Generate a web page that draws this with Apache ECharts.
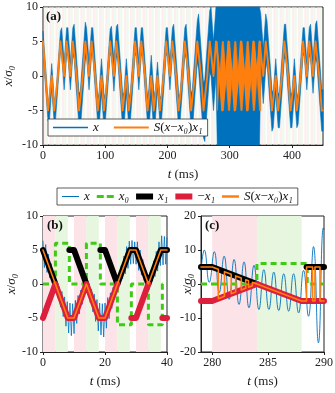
<!doctype html>
<html lang="en">
<head>
<meta charset="UTF-8">
<script src="https://cdn.jsdelivr.net/npm/echarts@6/dist/echarts.min.js"></script>
<style>html,body{margin:0;padding:0;background:#fff}#main{width:335px;height:393px}</style>
</head>
<body>
<div id="main"></div>
<script>
var colBlue = '#0072BD', colOrange = '#FF7F0E', colGreen = '#3FCB14', colRed = '#DC1F3C';
var colPink = '#FBE3E7', colMint = '#E6F6DF', ink = '#222';
var serif = "'Liberation Serif', 'DejaVu Serif', serif";

// one 10 ms cycle of |x1|: start, minimum, plateau (plateau lasts to the end of the cycle)
var cycleT = [0, 4, 8];
var x1Cycle = [5, 0, 5];

// panel (a): branch taken before cycle 0, then the branch of each cycle's plateau
var signA = [1, -1, -1, 1, 1, 1, -1, 1, 1, -1, -1, 1, 1, -1, -1, 1, 1, -1, -1, -1, 1,
             1, -1, 1, -1, 1, -1, 1, 1, -1, 1, -1, 1, -1, 1, 1, 1, -1, -1, 1, -1,
             -1, 1, 1, 1, -1];
// panel (a): half width of the fast x oscillation around S(x-x0)x1, per cycle
var spreadA = [1.5, 1.8, 1.5, 2, 2, 2.5, 2.8, 2, 2, 2.5, 1.8, 2.2, 2.5, 2.5, 2, 2, 2, 3, 2, 2,
               2, 2.5, 2, 2.5, 3, 4, 4.5, 5, 15, 15, 15, 15, 15, 15, 15, 4, 3, 2.5, 2.5, 2.5,
               2.5, 2, 2, 2.5, 3];
var switchA = [28, 35];   // cycles where S(x-x0) flips fast

// panel (b)
var blueB = [[0,6.3],[0.44,2.4],[0.87,5.8],[1.31,1.7],[1.74,4.4],[2.18,0.9],[2.61,3.0],[3.05,0.1],[3.48,1.6],[3.92,-0.6],
  [4.35,0.4],[4.79,-2.0],[5.22,-0.4],[5.66,-3.4],[6.09,-1.1],[6.53,-4.8],[6.96,-1.9],[7.40,-6.2],[7.83,-2.6],[8.27,-7.2],
  [8.70,-2.8],[9.14,-7.6],[9.57,-2.9],[10.01,-7.3],[10.44,-2.4],[10.88,-5.8],[11.31,-1.7],[11.75,-4.4],[12.18,-0.9],[12.62,-3.0],
  [13.05,-0.1],[13.49,-1.5],[13.92,0.6],[14.36,-1.3],[14.79,0.0],[15.23,-2.7],[15.66,-0.8],[16.10,-4.1],[16.53,-1.5],[16.97,-5.5],
  [17.40,-2.3],[17.84,-6.9],[18.27,-2.8],[18.71,-7.5],[19.14,-2.9],[19.58,-7.8],[20.01,-2.8],[20.45,-6.5],[20.88,-2.0],[21.32,-5.1],
  [21.75,-1.3],[22.19,-3.6],[22.62,-0.5],[23.06,-2.2],[23.49,0.3],[23.93,-0.8],[24.36,1.3],[24.80,0.0],[25.23,2.7],[25.67,0.8],
  [26.10,4.1],[26.54,1.5],[26.97,5.5],[27.41,2.3],[27.84,6.3],[28.28,2.9],[28.71,6.4],[29.15,3.0],[29.58,6.2],[30.02,2.9],
  [30.45,6.2],[30.89,2.0],[31.32,5.0],[31.76,1.3],[32.19,3.6],[32.63,0.5],[33.06,2.2],[33.50,-0.3],[33.93,0.8],[34.37,-0.4],
  [34.80,2.0],[35.24,0.4],[35.67,3.4],[36.11,1.1],[36.54,4.8],[36.98,1.9],[37.41,6.2],[37.85,2.7],[38.28,7.1],[38.72,2.8],
  [39.15,7.0],[39.59,2.9],[40.0,6.8]];
var x0B = [[0,0],[4,0],[4,6],[8.5,6],[8.5,0],[14,0],[14,6],[18.5,6],[18.5,0],[24,0],[24,-6],[28.5,-6],[28.5,0],
  [34,0],[34,-6],[38.5,-6],[38.5,0],[40,0]];
var x1B = [[[0,5],[4,0]], [[8.5,5],[10,5],[14,0]], [[18.5,5],[20,5],[24,0],[28,5],[30,5],[34,0],[38,5],[40,5]]];
var mx1B = [[[0,-5],[4,0],[8,-5],[10,-5],[14,0],[18,-5],[20,-5],[24,0]], [[28.5,-5],[30,-5],[34,0]], [[38.5,-5],[40,-5]]];
var sB = [[0,5],[4,0],[8,-5],[10,-5],[14,0],[18,-5],[20,-5],[24,0],[28,5],[30,5],[34,0],[38,5],[40,5]];

// panel (c)
var blueC = [[279.0,4.0],[279.30,10],[279.74,0.5],[280.19,9.5],[280.63,-2.5],[281.07,8.2],[281.52,-4.5],[281.96,7.2],
  [282.40,-6],[282.85,6.5],[283.29,-7],[283.74,5.5],[284.18,-7.5],[284.62,4.2],[285.07,-7.5],[285.51,3.5],[285.95,-7.8],
  [286.40,3.0],[286.84,-8],[287.28,3.0],[287.73,-8.5],[288.17,4.0],[288.61,-9.5],[289.06,11],[289.50,-17.3],[289.94,16.5],[290.0,16]];
var x0C = [[279,0],[284,0],[284,6],[288.5,6],[288.5,0],[290,0]];
var x1C = [[[279,5],[280,5],[284,0]], [[288.44,5],[290,5]]];
var mx1C = [[[279,-5],[280,-5],[284,0],[288,-5],[290,-5]]];
var sC = [[279,5],[280,5],[280.55,4.31],[280.55,-4.31],[281.1,-3.63],[281.1,3.63],[281.7,2.88],[281.7,-2.88],
  [282.1,-2.38],[282.1,2.38],[282.6,1.75],[282.6,-1.75],[283.0,-1.25],[283.0,1.25],[283.25,0.94],[283.25,-0.94],
  [283.6,-0.5],[283.6,0.5],[284,0],[288,-5],[288.44,-5],[288.44,5],[288.98,5],[288.98,-5],[289.19,-5],[289.19,5],
  [289.64,5],[289.64,-5],[290,-5]];

// build panel (a) traces from the cycle data
var orangeA = [], bandLoA = [], bandHiA = [], blueLoA = [], blueHiA = [];
for (var k = 0; k < 45; k++) {
    for (var j = 0; j < 3; j++) {
        var t = 10 * k + cycleT[j];
        var o = (j === 2 ? signA[k + 1] : signA[k]) * x1Cycle[j];
        orangeA.push([t, o]);
        blueLoA.push([t, Math.max(-10, o - spreadA[k])]);
        blueHiA.push([t, Math.min(10, o + spreadA[k])]);
        if (k >= switchA[0] && k < switchA[1]) {
            bandLoA.push([t, -x1Cycle[j]]);
            bandHiA.push([t, x1Cycle[j]]);
        }
    }
}
var oEnd = 5 * signA[45];
orangeA.push([450, oEnd]);
blueLoA.push([450, oEnd - spreadA[44]]);
blueHiA.push([450, oEnd + spreadA[44]]);
bandLoA.push([10 * switchA[1], -5]);
bandHiA.push([10 * switchA[1], 5]);

function stripes(from, to, op) {
    var d = [];
    for (var c = from; c < to; c += 10) {
        d.push([{xAxis: c, itemStyle: {color: colPink, opacity: op}}, {xAxis: c + 4}]);
        d.push([{xAxis: c + 4, itemStyle: {color: colMint, opacity: op}}, {xAxis: c + 8}]);
    }
    return d;
}

var rich = {
    i: {fontFamily: serif, fontStyle: 'italic', fontSize: 13, color: '#111'},
    n: {fontFamily: serif, fontSize: 13, color: '#111'}
};
var legendText = {
    'x': '{i|x}', 'x₀': '{i|x₀}', 'x₁': '{i|x₁}', '−x₁': '{n|−}{i|x₁}',
    'S(x−x₀)x₁': '{i|S}{n|(}{i|x}{n|−}{i|x₀}{n|)}{i|x₁}'
};

function xAx(g, min, max, extra) {
    var a = {
        type: 'value', gridIndex: g, min: min, max: max,
        name: '{i|t} (ms)', nameLocation: 'middle', nameGap: 23,
        nameTextStyle: {fontFamily: serif, fontSize: 13, color: ink, rich: rich},
        axisLine: {show: true, onZero: false, lineStyle: {color: ink, width: 1}},
        axisTick: {show: true, length: 3, lineStyle: {color: ink}},
        axisLabel: {color: ink, fontFamily: serif, fontSize: 12, margin: 5},
        splitLine: {show: false}
    };
    return Object.assign(a, extra || {});
}
function yAx(g, min, max, interval, gap) {
    return {
        type: 'value', gridIndex: g, min: min, max: max, interval: interval,
        name: '{i|x}/{i|σ₀}', nameLocation: 'middle', nameGap: gap, nameMoveOverlap: false,
        nameTextStyle: {fontFamily: serif, fontSize: 13, color: ink, rich: rich},
        axisLine: {show: true, onZero: false, lineStyle: {color: ink, width: 1}},
        axisTick: {show: true, length: 3, lineStyle: {color: ink}},
        axisLabel: {color: ink, fontFamily: serif, fontSize: 12, margin: 5},
        splitLine: {show: false}
    };
}
function line(name, g, data, color, width, z, extra) {
    var s = {
        type: 'line', name: name, xAxisIndex: g, yAxisIndex: g, data: data, z: z,
        symbol: 'none', showSymbol: false, silent: true,
        lineStyle: {color: color, width: width, cap: 'round', join: 'round'},
        itemStyle: {color: color}
    };
    return Object.assign(s, extra || {});
}
// filled band between two traces that share their t values
function ribbon(name, g, upper, lower, color, z) {
    return {
        type: 'custom', name: name, coordinateSystem: 'cartesian2d', xAxisIndex: g, yAxisIndex: g,
        z: z, silent: true, data: [upper[0]],
        renderItem: function (params, api) {
            var pts = [];
            for (var i = 0; i < upper.length; i++) pts.push(api.coord(upper[i]));
            for (var i2 = lower.length - 1; i2 >= 0; i2--) pts.push(api.coord(lower[i2]));
            return {type: 'polygon', shape: {points: pts}, style: {fill: color, stroke: color, lineWidth: 0.6}};
        }
    };
}
function stripeSeries(g, from, to, op) {
    return {type: 'line', name: 'bg' + g, xAxisIndex: g, yAxisIndex: g, data: [], z: 1, silent: true,
        markArea: {silent: true, data: stripes(from, to, op)}};
}

var series = [];
// panels (b) and (c) first so legend icons come from them
[[1, blueB, x0B, x1B, mx1B, sB, 0.8, false], [2, blueC, x0C, x1C, mx1C, sC, 0.9, true]].forEach(function (p) {
    var g = p[0];
    series.push(line('x', g, p[1], colBlue, p[6], 2, {smooth: p[7]}));
    series.push(line('x₀', g, p[2], colGreen, 3, 3, {lineStyle: {color: colGreen, width: 3, type: [6, 4], cap: 'butt'}}));
    p[3].forEach(function (seg) { series.push(line('x₁', g, seg, '#000', 6, 4)); });
    p[4].forEach(function (seg) { series.push(line('−x₁', g, seg, colRed, 6, 5)); });
    series.push(line('S(x−x₀)x₁', g, p[5], colOrange, 1.6, 6));
});
series.push(stripeSeries(0, 0, 450, 0.6), stripeSeries(1, 0, 40, 1), stripeSeries(2, 280, 290, 1));
// panel (a)
series.push(ribbon('xa', 0, blueHiA, blueLoA, colBlue, 2));
series.push(line('S(x−x₀)x₁', 0, orangeA, colOrange, 1.9, 3));
series.push(ribbon('sa', 0, bandHiA, bandLoA, colOrange, 3));

var grid = {show: true, borderColor: ink, borderWidth: 1, backgroundColor: 'transparent', outerBoundsMode: 'none'};
var legendBase = {
    selectedMode: false, backgroundColor: '#fff', borderColor: '#333', borderWidth: 0.8, borderRadius: 0,
    padding: [2, 5], itemHeight: 8, textStyle: {fontFamily: serif, fontSize: 13, color: '#111', rich: rich},
    formatter: function (n) { return legendText[n] || n; }
};
var titleStyle = {fontFamily: serif, fontWeight: 'bold', fontSize: 13, color: '#111'};

var myChart = echarts.init(document.getElementById('main'), null, {renderer: 'canvas'});
myChart.setOption({
    animation: false,
    title: [
        {text: '(a)', left: 46, top: 10, padding: 0, textStyle: titleStyle},
        {text: '(b)', left: 47, top: 219, padding: 0, textStyle: titleStyle},
        {text: '(c)', left: 205, top: 219, padding: 0, textStyle: titleStyle}
    ],
    grid: [
        Object.assign({left: 43, top: 7, width: 280, height: 138}, grid),
        Object.assign({left: 43, top: 216, width: 124, height: 136}, grid),
        Object.assign({left: 201, top: 216, width: 123, height: 136}, grid)
    ],
    legend: [
        Object.assign({left: 48, top: 119, itemWidth: 35, itemGap: 15, data: [
            {name: 'x', icon: 'path://M0,0H70V3H0Z'},
            {name: 'S(x−x₀)x₁', icon: 'path://M0,0H70V4H0Z'}
        ]}, legendBase),
        Object.assign({left: 57, top: 188, itemWidth: 17, itemGap: 7, data: [
            {name: 'x', icon: 'path://M0,0H34V2H0Z'},
            {name: 'x₀', icon: 'path://M0,0H14V6H0ZM20,0H34V6H20Z'},
            {name: 'x₁', icon: 'path://M0,0H17V6H0Z'},
            {name: '−x₁', icon: 'path://M0,0H17V6H0Z'},
            {name: 'S(x−x₀)x₁', icon: 'path://M0,0H34V5H0Z'}
        ]}, legendBase)
    ],
    xAxis: [
        xAx(0, 0, 450, {interval: 100, axisLabel: {color: ink, fontFamily: serif, fontSize: 12, margin: 5, showMaxLabel: false}}),
        xAx(1, 0, 40, {interval: 20}),
        xAx(2, 279, 290, {
            axisLabel: {color: ink, fontFamily: serif, fontSize: 12, margin: 5, customValues: [280, 285, 290]},
            axisTick: {show: true, length: 3, lineStyle: {color: ink}, customValues: [280, 285, 290]}
        })
    ],
    yAxis: [
        yAx(0, -10, 10, 5, 28),
        yAx(1, -10, 10, 5, 25),
        yAx(2, -20, 20, 10, 7)
    ],
    series: series
});
</script>
</body>
</html>
